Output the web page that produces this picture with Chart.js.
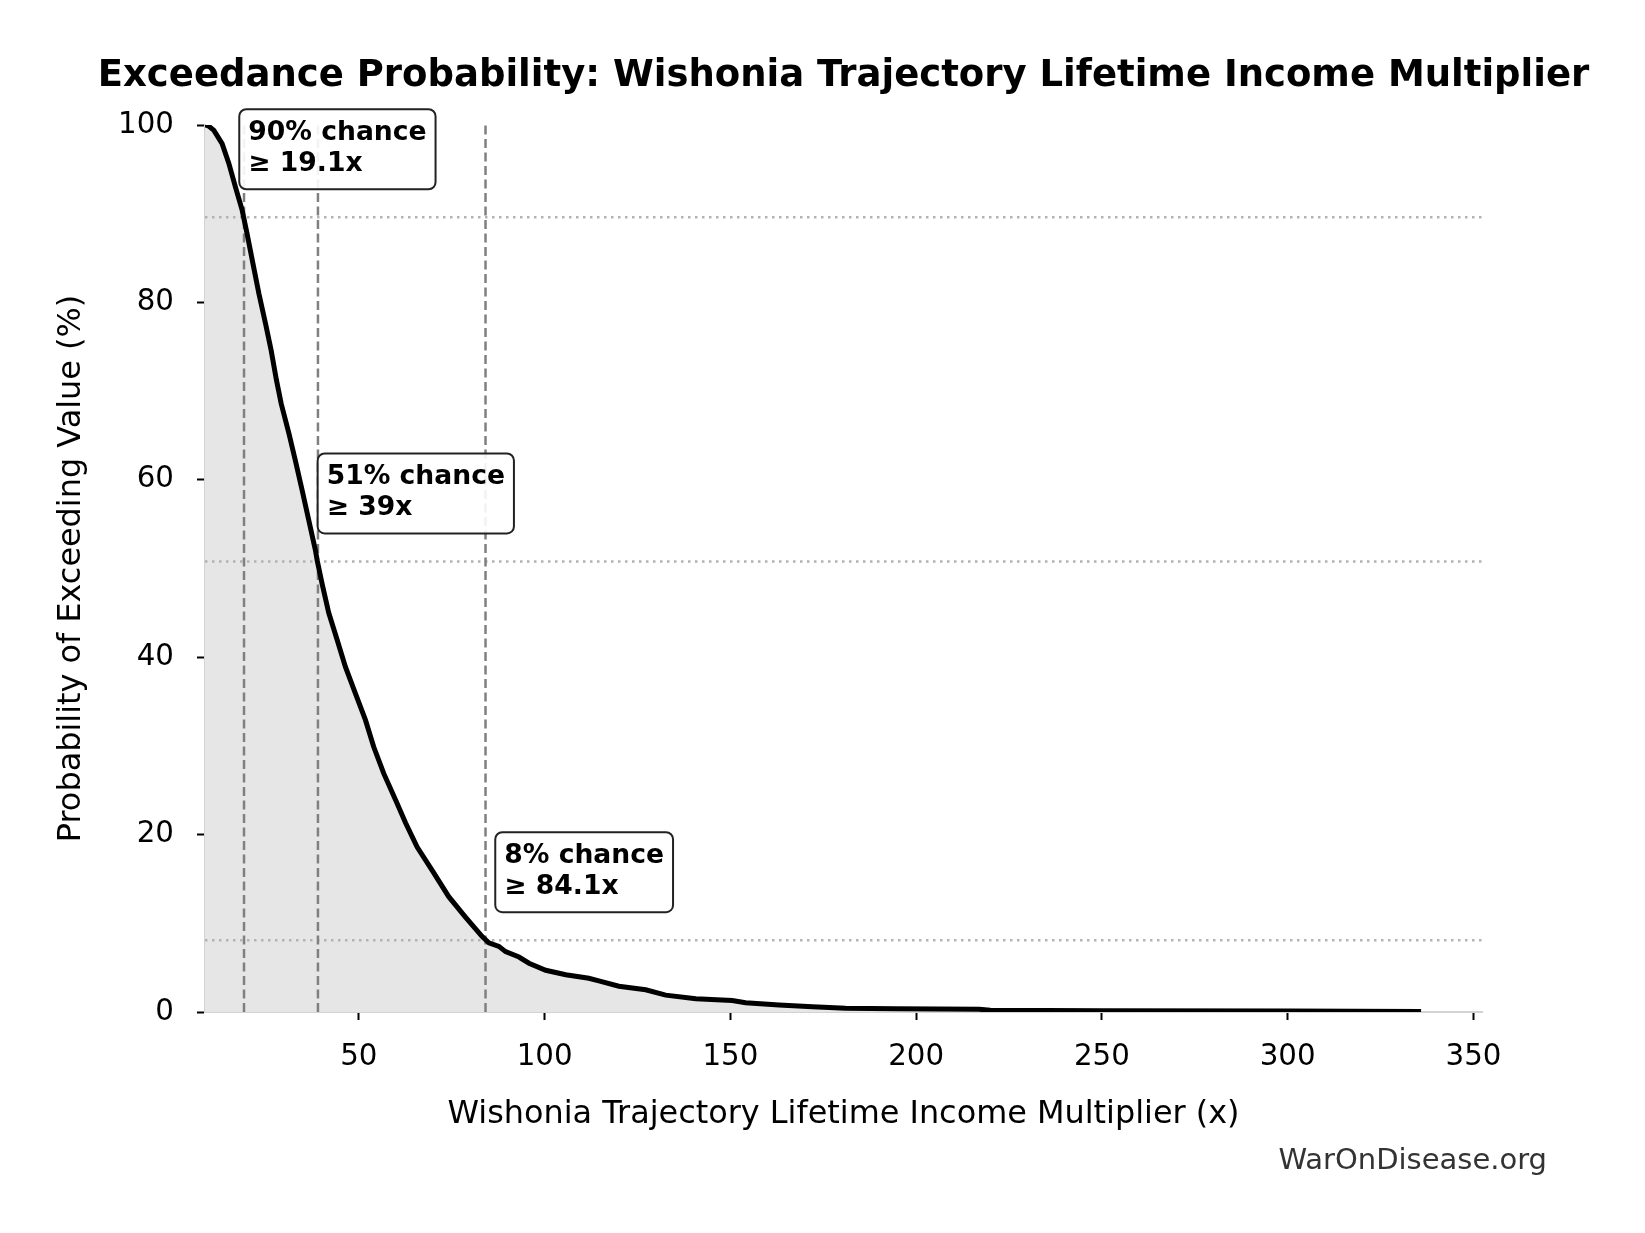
<!DOCTYPE html>
<html>
<head>
<meta charset="utf-8">
<title>Exceedance Probability</title>
<script src="https://cdn.jsdelivr.net/npm/chart.js@4.4.1/dist/chart.umd.min.js"></script>
<style>
  html, body { margin: 0; padding: 0; background: #fff; }
  #wrap { width: 1645px; height: 1233px; }
</style>
</head>
<body>
<div id="wrap"><canvas id="chart" width="1645" height="1233"></canvas></div>
<script>
// multiplier (x) and the chance (%) of exceeding it
const multipliers = [
  8.6, 9.5, 11, 13.2, 15, 16.8, 18.6, 19.9, 21.3, 23.1, 24.9, 26.4, 27.8, 29.1,
  31.2, 32.9, 34.7, 36.5, 38.3, 38.8, 40.1, 41.9, 44.2, 46.4, 49.1, 51.8, 54.0,
  56.7, 59.9, 62.6, 65.7, 69.7, 74.2, 78.7, 83.2, 85.0, 87.7, 89.5, 93.1, 95.8,
  100.3, 105.7, 111.9, 114.6, 120, 127.2, 132.6, 140.7, 150.5, 154.1, 163.1,
  172.1, 181, 194.5, 217, 220, 250, 300, 335.9
];
const exceedPct = [
  100, 99.9, 99.4, 97.9, 95.7, 93.0, 90.4, 87.8, 84.8, 81.0, 77.6, 74.6, 71.3, 68.6,
  65.2, 62.2, 58.9, 55.5, 52.1, 50.9, 48.3, 45.0, 41.9, 38.9, 35.9, 32.9, 29.9,
  26.9, 23.9, 21.3, 18.6, 16.0, 13.0, 10.7, 8.5, 7.8, 7.4, 6.8, 6.2, 5.5,
  4.7, 4.2, 3.8, 3.5, 2.9, 2.5, 1.9, 1.5, 1.3, 1.05, 0.79,
  0.6, 0.42, 0.37, 0.3, 0.2, 0.15, 0.1, 0.05
];

// reference markers
const markerX = [19.1, 39, 84.1];
const markerPct = [89.6, 50.8, 8.1];
const markerLabels = [
  ['90% chance', '≥ 19.1x'],
  ['51% chance', '≥ 39x'],
  ['8% chance', '≥ 84.1x']
];

const xTicks = [50, 100, 150, 200, 250, 300, 350];
const yTicks = [0, 20, 40, 60, 80, 100];
const X_MIN = 8.6;
const X_MAX = 352.3;

const TITLE = 'Exceedance Probability: Wishonia Trajectory Lifetime Income Multiplier';
const X_LABEL = 'Wishonia Trajectory Lifetime Income Multiplier (x)';
const Y_LABEL = 'Probability of Exceeding Value (%)';
const CREDIT = 'WarOnDisease.org';

const fontFamily = '"DejaVu Sans", sans-serif';
Chart.defaults.font.family = fontFamily;
Chart.defaults.color = '#000';

const curve = {
  data: multipliers.map((x, i) => ({ x: x, y: exceedPct[i] })),
  borderColor: '#000',
  borderWidth: 5,
  backgroundColor: '#e6e6e6',
  fill: 'origin',
  pointRadius: 0,
  tension: 0
};

const vLines = markerX.map(v => ({
  data: [{ x: v, y: 0 }, { x: v, y: 100 }],
  borderColor: '#808080',
  borderWidth: 2.5,
  borderDash: [9, 4.5],
  pointRadius: 0,
  fill: false
}));

const hLines = markerPct.map(p => ({
  data: [{ x: X_MIN, y: p }, { x: X_MAX, y: p }],
  borderColor: '#b3b3b3',
  borderWidth: 2.5,
  borderDash: [2.5, 4.5],
  pointRadius: 0,
  fill: false
}));

// boxes with the threshold text
const markerBoxes = {
  id: 'markerBoxes',
  afterDatasetsDraw(chart) {
    const { ctx, scales } = chart;
    ctx.save();
    ctx.font = `bold 26.6px ${fontFamily}`;
    markerX.forEach((v, i) => {
      const lines = markerLabels[i];
      const tx = scales.x.getPixelForValue(v * 1.06);
      const top = scales.y.getPixelForValue(markerPct[i]) - 108;
      const w = Math.max(...lines.map(t => ctx.measureText(t).width)) + 18;
      const left = tx - 9;
      ctx.beginPath();
      ctx.roundRect(left, top, w, 80, 7);
      ctx.fillStyle = 'rgba(255,255,255,0.9)';
      ctx.fill();
      ctx.lineWidth = 2;
      ctx.strokeStyle = '#222';
      ctx.stroke();
      ctx.fillStyle = '#000';
      ctx.textAlign = 'left';
      ctx.textBaseline = 'middle';
      ctx.fillText(lines[0], tx, top + 24);
      ctx.fillText(lines[1], tx, top + 55);
    });
    ctx.restore();
  }
};

// title over the plot and the credit line
const extraText = {
  id: 'extraText',
  afterDraw(chart) {
    const { ctx, chartArea } = chart;
    ctx.save();
    ctx.fillStyle = '#000';
    ctx.font = `bold 37px ${fontFamily}`;
    ctx.textAlign = 'center';
    ctx.textBaseline = 'alphabetic';
    ctx.fillText(TITLE, (chartArea.left + chartArea.right) / 2, 86);
    ctx.fillStyle = '#333';
    ctx.font = `29px ${fontFamily}`;
    ctx.textAlign = 'right';
    ctx.fillText(CREDIT, 1547, 1169);
    ctx.restore();
  }
};

new Chart(document.getElementById('chart'), {
  type: 'line',
  data: { datasets: [curve, ...vLines, ...hLines] },
  options: {
    responsive: false,
    animation: false,
    devicePixelRatio: 1,
    layout: { padding: { top: 125, right: 163, left: 0, bottom: 0 } },
    plugins: {
      legend: { display: false },
      tooltip: { enabled: false },
      filler: { drawTime: 'beforeDatasetsDraw' }
    },
    scales: {
      x: {
        type: 'linear',
        min: X_MIN,
        max: X_MAX,
        afterBuildTicks: s => { s.ticks = xTicks.map(v => ({ value: v })); },
        afterFit: s => { s.height = 221; },
        ticks: { padding: 20, font: { size: 29.3 }, color: '#000' },
        grid: { drawOnChartArea: false, tickLength: 8, tickColor: '#000', tickWidth: 2 },
        border: { color: '#d3d3d3', width: 2 },
        title: { display: true, text: X_LABEL, font: { size: 31.9 }, color: '#000', padding: { top: 0, bottom: 99 } }
      },
      y: {
        min: 0,
        max: 100,
        afterBuildTicks: s => { s.ticks = yTicks.map(v => ({ value: v })); },
        afterFit: s => { s.width = 205; },
        ticks: { padding: 23, font: { size: 29.3 }, color: '#000' },
        grid: { drawOnChartArea: false, tickLength: 8, tickColor: '#000', tickWidth: 2 },
        border: { color: '#d3d3d3', width: 2 },
        title: { display: true, text: Y_LABEL, font: { size: 31.9 }, color: '#000', padding: { top: 53, bottom: 0 } }
      }
    }
  },
  plugins: [markerBoxes, extraText]
});
</script>
</body>
</html>
